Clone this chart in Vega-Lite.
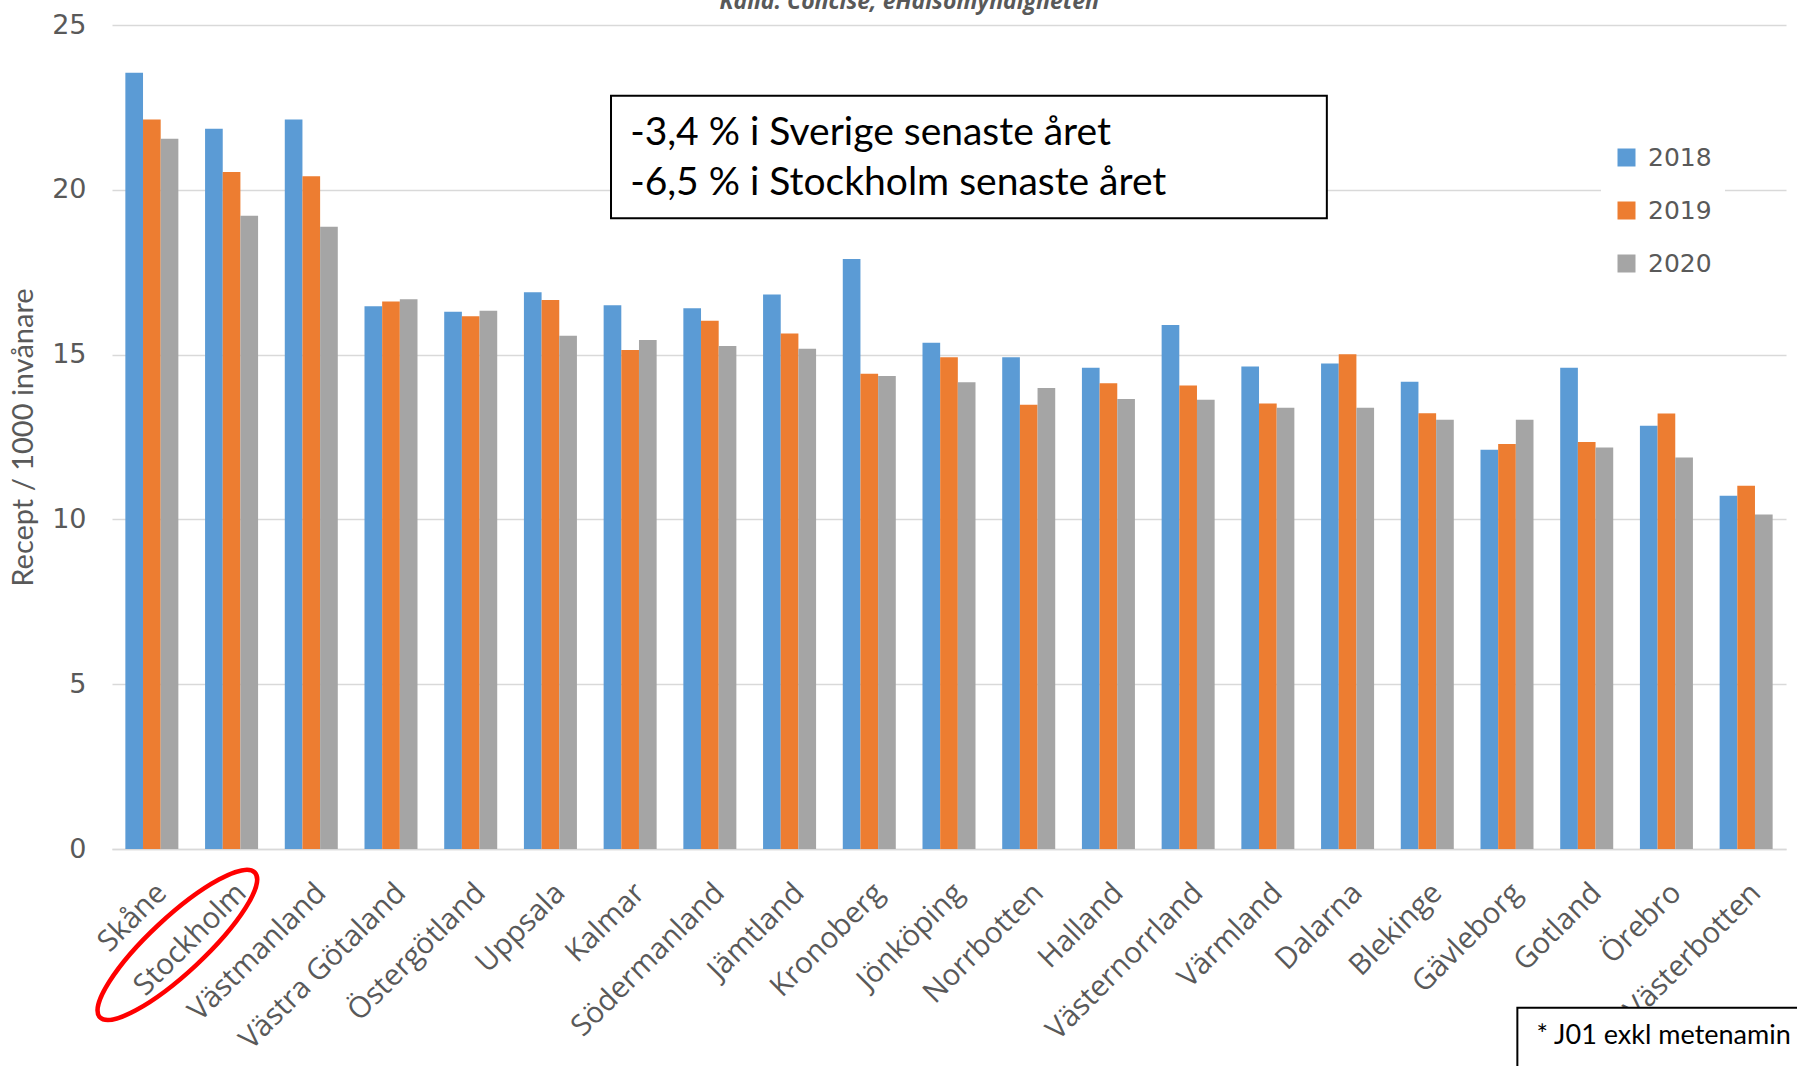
{
  "$schema": "https://vega.github.io/schema/vega-lite/v6.json",
  "autosize": {"type": "none"},
  "width": 1674,
  "height": 824,
  "padding": {"left": 112, "top": 25, "right": 11, "bottom": 217},
  "background": "white",
  "config": {
    "view": {"stroke": null},
    "axis": {"labelColor": "#595959", "titleColor": "#595959"}
  },
  "datasets": {
    "rx": [
      {"lan": "Skåne", "ar": "2018", "varde": 23.55}, {"lan": "Skåne", "ar": "2019", "varde": 22.13}, {"lan": "Skåne", "ar": "2020", "varde": 21.55},
      {"lan": "Stockholm", "ar": "2018", "varde": 21.85}, {"lan": "Stockholm", "ar": "2019", "varde": 20.54}, {"lan": "Stockholm", "ar": "2020", "varde": 19.21},
      {"lan": "Västmanland", "ar": "2018", "varde": 22.13}, {"lan": "Västmanland", "ar": "2019", "varde": 20.41}, {"lan": "Västmanland", "ar": "2020", "varde": 18.88},
      {"lan": "Västra Götaland", "ar": "2018", "varde": 16.47}, {"lan": "Västra Götaland", "ar": "2019", "varde": 16.61}, {"lan": "Västra Götaland", "ar": "2020", "varde": 16.68},
      {"lan": "Östergötland", "ar": "2018", "varde": 16.30}, {"lan": "Östergötland", "ar": "2019", "varde": 16.16}, {"lan": "Östergötland", "ar": "2020", "varde": 16.33},
      {"lan": "Uppsala", "ar": "2018", "varde": 16.89}, {"lan": "Uppsala", "ar": "2019", "varde": 16.66}, {"lan": "Uppsala", "ar": "2020", "varde": 15.57},
      {"lan": "Kalmar", "ar": "2018", "varde": 16.50}, {"lan": "Kalmar", "ar": "2019", "varde": 15.14}, {"lan": "Kalmar", "ar": "2020", "varde": 15.44},
      {"lan": "Södermanland", "ar": "2018", "varde": 16.41}, {"lan": "Södermanland", "ar": "2019", "varde": 16.03}, {"lan": "Södermanland", "ar": "2020", "varde": 15.26},
      {"lan": "Jämtland", "ar": "2018", "varde": 16.82}, {"lan": "Jämtland", "ar": "2019", "varde": 15.64}, {"lan": "Jämtland", "ar": "2020", "varde": 15.18},
      {"lan": "Kronoberg", "ar": "2018", "varde": 17.90}, {"lan": "Kronoberg", "ar": "2019", "varde": 14.42}, {"lan": "Kronoberg", "ar": "2020", "varde": 14.35},
      {"lan": "Jönköping", "ar": "2018", "varde": 15.36}, {"lan": "Jönköping", "ar": "2019", "varde": 14.92}, {"lan": "Jönköping", "ar": "2020", "varde": 14.16},
      {"lan": "Norrbotten", "ar": "2018", "varde": 14.92}, {"lan": "Norrbotten", "ar": "2019", "varde": 13.48}, {"lan": "Norrbotten", "ar": "2020", "varde": 13.99},
      {"lan": "Halland", "ar": "2018", "varde": 14.60}, {"lan": "Halland", "ar": "2019", "varde": 14.13}, {"lan": "Halland", "ar": "2020", "varde": 13.65},
      {"lan": "Västernorrland", "ar": "2018", "varde": 15.90}, {"lan": "Västernorrland", "ar": "2019", "varde": 14.06}, {"lan": "Västernorrland", "ar": "2020", "varde": 13.63},
      {"lan": "Värmland", "ar": "2018", "varde": 14.64}, {"lan": "Värmland", "ar": "2019", "varde": 13.52}, {"lan": "Värmland", "ar": "2020", "varde": 13.39},
      {"lan": "Dalarna", "ar": "2018", "varde": 14.73}, {"lan": "Dalarna", "ar": "2019", "varde": 15.01}, {"lan": "Dalarna", "ar": "2020", "varde": 13.39},
      {"lan": "Blekinge", "ar": "2018", "varde": 14.18}, {"lan": "Blekinge", "ar": "2019", "varde": 13.22}, {"lan": "Blekinge", "ar": "2020", "varde": 13.02},
      {"lan": "Gävleborg", "ar": "2018", "varde": 12.11}, {"lan": "Gävleborg", "ar": "2019", "varde": 12.29}, {"lan": "Gävleborg", "ar": "2020", "varde": 13.02},
      {"lan": "Gotland", "ar": "2018", "varde": 14.60}, {"lan": "Gotland", "ar": "2019", "varde": 12.35}, {"lan": "Gotland", "ar": "2020", "varde": 12.18},
      {"lan": "Örebro", "ar": "2018", "varde": 12.84}, {"lan": "Örebro", "ar": "2019", "varde": 13.21}, {"lan": "Örebro", "ar": "2020", "varde": 11.88},
      {"lan": "Västerbotten", "ar": "2018", "varde": 10.72}, {"lan": "Västerbotten", "ar": "2019", "varde": 11.02}, {"lan": "Västerbotten", "ar": "2020", "varde": 10.15}
    ]
  },
  "layer": [
    {
      "data": {"name": "rx"},
      "mark": {"type": "bar"},
      "encoding": {
        "x": {
          "field": "lan", "type": "nominal", "sort": null,
          "scale": {"paddingInner": 0.335, "paddingOuter": 0.1675},
          "axis": {
            "title": null, "labelAngle": -45, "labelFont": "Open Sans", "labelFontSize": 29.5,
            "labelPadding": 29, "ticks": false, "domainColor": "#d9d9d9", "domainWidth": 1.5,
            "labelColor": "#595959", "labelOverlap": false, "labelLimit": 0
          }
        },
        "xOffset": {"field": "ar", "type": "nominal"},
        "y": {
          "field": "varde", "type": "quantitative",
          "scale": {"domain": [0, 25], "nice": false},
          "axis": {
            "title": "Recept / 1000 invånare", "titleFont": "Lato", "titleFontSize": 29,
            "titleFontWeight": "normal", "titlePadding": 13,
            "values": [0, 5, 10, 15, 20, 25], "labelFont": "DejaVu Sans", "labelFontSize": 27,
            "labelPadding": 26, "ticks": false, "domain": false,
            "gridColor": "#d9d9d9", "gridWidth": 1.5
          }
        },
        "color": {
          "field": "ar", "type": "nominal",
          "scale": {"domain": ["2018", "2019", "2020"], "range": ["#5b9bd5", "#ed7d31", "#a5a5a5"]},
          "legend": {
            "title": null, "orient": "none", "legendX": 1489, "legendY": 107,
            "fillColor": "white", "padding": 13, "symbolType": "square", "symbolSize": 324,
            "symbolStrokeWidth": 0, "labelFont": "DejaVu Sans", "labelFontSize": 25,
            "labelColor": "#595959", "rowPadding": 27, "labelOffset": 9
          }
        }
      }
    },
    {
      "layer": [
        {
          "data": {"values": [{}]},
          "mark": {"type": "rect", "fill": "white", "stroke": "black", "strokeWidth": 2},
          "encoding": {
            "x": {"datum": 6.26, "type": "quantitative", "scale": {"domain": [0, 21], "nice": false, "zero": false}, "axis": null},
            "x2": {"datum": 15.24},
            "y": {"datum": 22.85, "type": "quantitative", "scale": {"domain": [0, 25], "nice": false}},
            "y2": {"datum": 19.14}
          }
        },
        {
          "data": {"values": [{}]},
          "mark": {
            "type": "text", "text": ["-3,4 % i Sverige senaste året", "-6,5 % i Stockholm senaste året"],
            "font": "Lato", "fontSize": 39, "lineHeight": 50, "align": "left", "baseline": "middle", "color": "black"
          },
          "encoding": {
            "x": {"datum": 6.5, "type": "quantitative", "scale": {"domain": [0, 21], "nice": false, "zero": false}, "axis": null},
            "y": {"datum": 21.72, "type": "quantitative", "scale": {"domain": [0, 25], "nice": false}}
          }
        },
        {
          "data": {"values": [{}]},
          "mark": {"type": "rect", "fill": "white", "stroke": "black", "strokeWidth": 2},
          "encoding": {
            "x": {"datum": 17.63, "type": "quantitative", "scale": {"domain": [0, 21], "nice": false, "zero": false}, "axis": null},
            "x2": {"datum": 21.6},
            "y": {"datum": -4.82, "type": "quantitative", "scale": {"domain": [0, 25], "nice": false}},
            "y2": {"datum": -7.6}
          }
        },
        {
          "data": {"values": [{}]},
          "mark": {
            "type": "text", "text": "* J01 exkl metenamin",
            "font": "Lato", "fontSize": 27, "align": "left", "baseline": "middle", "color": "black"
          },
          "encoding": {
            "x": {"datum": 17.87, "type": "quantitative", "scale": {"domain": [0, 21], "nice": false, "zero": false}, "axis": null},
            "y": {"datum": -5.67, "type": "quantitative", "scale": {"domain": [0, 25], "nice": false}}
          }
        },
        {
          "data": {"values": [{}]},
          "mark": {
            "type": "text", "text": "Källa: Concise, eHälsomyndigheten",
            "font": "Open Sans", "fontSize": 23, "fontWeight": "bold", "fontStyle": "italic",
            "align": "center", "baseline": "alphabetic", "color": "#595959"
          },
          "encoding": {
            "x": {"datum": 10.0, "type": "quantitative", "scale": {"domain": [0, 21], "nice": false, "zero": false}, "axis": null},
            "y": {"datum": 25.49, "type": "quantitative", "scale": {"domain": [0, 25], "nice": false}}
          }
        },
        {
          "data": {"values": [{}]},
          "mark": {
            "type": "point", "filled": false, "stroke": "#ff0000", "strokeWidth": 4.5, "opacity": 1,
            "shape": "M -1 0 C -1 -0.1436 -0.5523 -0.26 0 -0.26 C 0.5523 -0.26 1 -0.1436 1 0 C 1 0.1436 0.5523 0.26 0 0.26 C -0.5523 0.26 -1 0.1436 -1 0 Z",
            "size": 44944, "angle": -43
          },
          "encoding": {
            "x": {"datum": 0.82, "type": "quantitative", "scale": {"domain": [0, 21], "nice": false, "zero": false}, "axis": null},
            "y": {"datum": -2.91, "type": "quantitative", "scale": {"domain": [0, 25], "nice": false}}
          }
        }
      ]
    }
  ],
  "resolve": {"scale": {"x": "independent"}, "axis": {"x": "independent"}}
}
